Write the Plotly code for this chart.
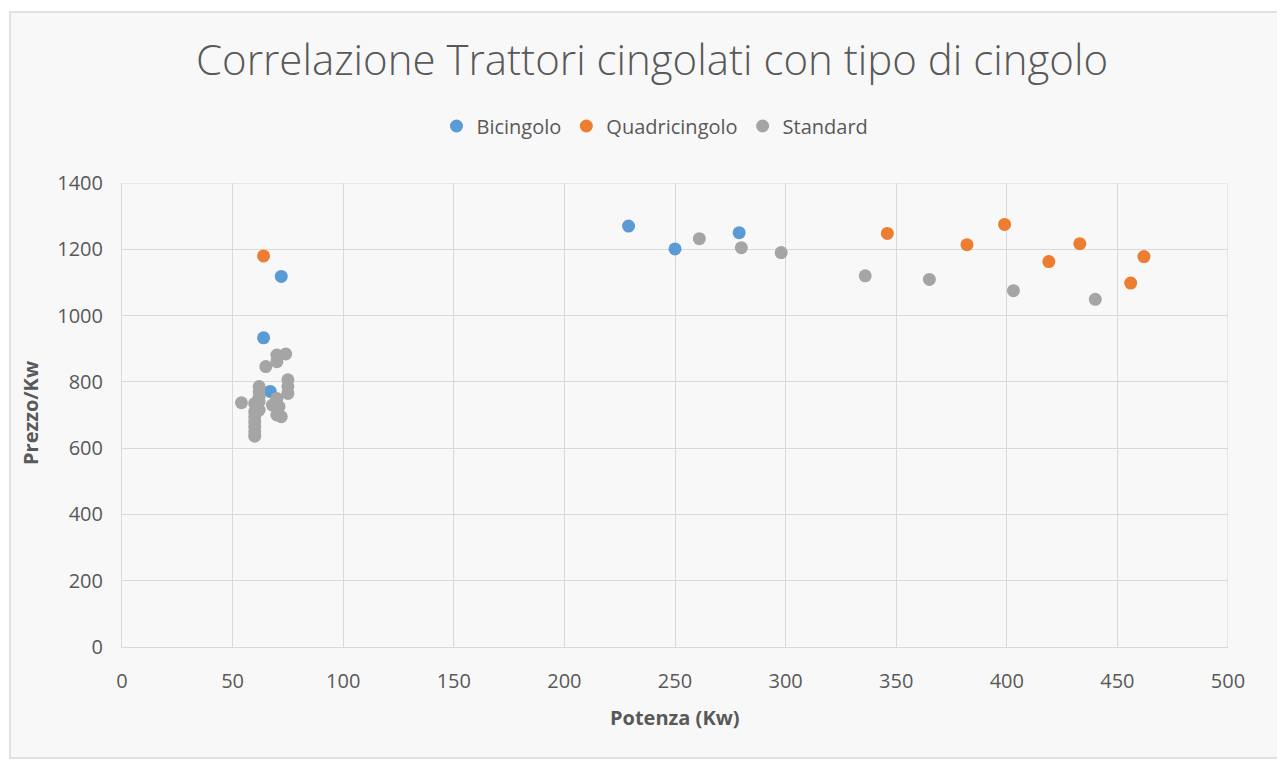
import plotly.graph_objects as go

# Data
bici_x = [64, 67, 72, 229, 250, 279]
bici_y = [933, 771, 1118, 1270, 1201, 1250]

quad_x = [64, 346, 382, 399, 419, 433, 456, 462]
quad_y = [1180, 1248, 1214, 1275, 1163, 1217, 1098, 1178]

std_x = [54, 60, 60, 60, 60, 60, 60, 60, 62, 62, 62, 62, 62, 65, 68, 70, 70, 70, 70, 71, 72, 74, 75, 75, 75,
         261, 280, 298, 336, 365, 403, 440]
std_y = [737, 636, 650, 665, 680, 695, 710, 735, 715, 740, 755, 770, 786, 846, 730, 881, 861, 750, 700, 725, 695, 884, 806, 786, 765,
         1232, 1205, 1190, 1120, 1109, 1075, 1049]

x_ticks = [0, 50, 100, 150, 200, 250, 300, 350, 400, 450, 500]
y_ticks = [0, 200, 400, 600, 800, 1000, 1200, 1400]

FONT = "Open Sans"
GREY = "#595959"

fig = go.Figure()
fig.add_trace(go.Scatter(x=bici_x, y=bici_y, mode="markers", name="Bicingolo",
                         marker=dict(color="#5B9BD5", size=13, line=dict(width=0))))
fig.add_trace(go.Scatter(x=quad_x, y=quad_y, mode="markers", name="Quadricingolo",
                         marker=dict(color="#ED7D31", size=13, line=dict(width=0))))
fig.add_trace(go.Scatter(x=std_x, y=std_y, mode="markers", name="Standard",
                         marker=dict(color="#A5A5A5", size=13, line=dict(width=0))))

# page body has an 8px margin: work in screen px, convert to figure px
OFF = 8
W, H = 1285 - OFF, 760 - OFF
L, T = 122 - OFF, 183 - OFF
R = W - (1228 - OFF)
B = H - (647 - OFF)
pw, ph = W - L - R, H - T - B

def px2x(p):
    return (p - OFF - L) / pw

def px2y(p):
    return (H - B - (p - OFF)) / ph

fig.update_layout(
    width=W, height=H,
    margin=dict(l=L, r=R, t=T, b=B),
    paper_bgcolor="white",
    plot_bgcolor="rgba(0,0,0,0)",
    font=dict(family=FONT, color=GREY, size=20),
    title=dict(text="Correlazione Trattori cingolati con tipo di cingolo",
               x=(652 - OFF) / W, xanchor="center", y=1 - (60 - OFF) / H, yanchor="middle",
               font=dict(family=FONT, size=42, color=GREY, weight=300)),
    showlegend=True,
    legend=dict(orientation="h", x=px2x(655), xanchor="center", y=px2y(126), yanchor="middle",
                font=dict(family=FONT, size=20, color=GREY), itemwidth=30,
                bgcolor="rgba(0,0,0,0)", tracegroupgap=0),
    xaxis=dict(range=[0, 500], tickvals=x_ticks, showgrid=True, gridcolor="#d9d9d9", gridwidth=1,
               zeroline=False, showline=True, linecolor="#d9d9d9", mirror=False,
               ticks="", ticklabelstandoff=16, tickfont=dict(size=20, color=GREY)),
    yaxis=dict(range=[0, 1400], tickvals=y_ticks, showgrid=True, gridcolor="#d9d9d9", gridwidth=1,
               zeroline=False, showline=True, linecolor="#d9d9d9",
               ticks="", ticklabelstandoff=14, tickfont=dict(size=20, color=GREY)),
    shapes=[dict(type="rect", xref="paper", yref="paper", layer="below",
                 x0=px2x(10), x1=px2x(1283), y0=px2y(758), y1=px2y(12),
                 line=dict(color="#d9d9d9", width=1.5),
                 fillcolor="#f8f8f8"),
            dict(type="line", xref="x", yref="paper", x0=500, x1=500, y0=0, y1=1,
                 line=dict(color="#d9d9d9", width=1), layer="below"),
            dict(type="line", xref="paper", yref="y", x0=0, x1=1, y0=1400, y1=1400,
                 line=dict(color="#d9d9d9", width=1), layer="below")],
    annotations=[
        dict(text="<b>Prezzo/Kw</b>", xref="paper", yref="paper", x=px2x(30), y=px2y(413),
             textangle=-90, showarrow=False, xanchor="center", yanchor="middle",
             font=dict(family=FONT, size=20, color=GREY)),
        dict(text="<b>Potenza (Kw)</b>", xref="paper", yref="paper", x=px2x(675), y=px2y(717),
             showarrow=False, xanchor="center", yanchor="middle",
             font=dict(family=FONT, size=20, color=GREY)),
    ],
)

fig.write_html("out.html")
